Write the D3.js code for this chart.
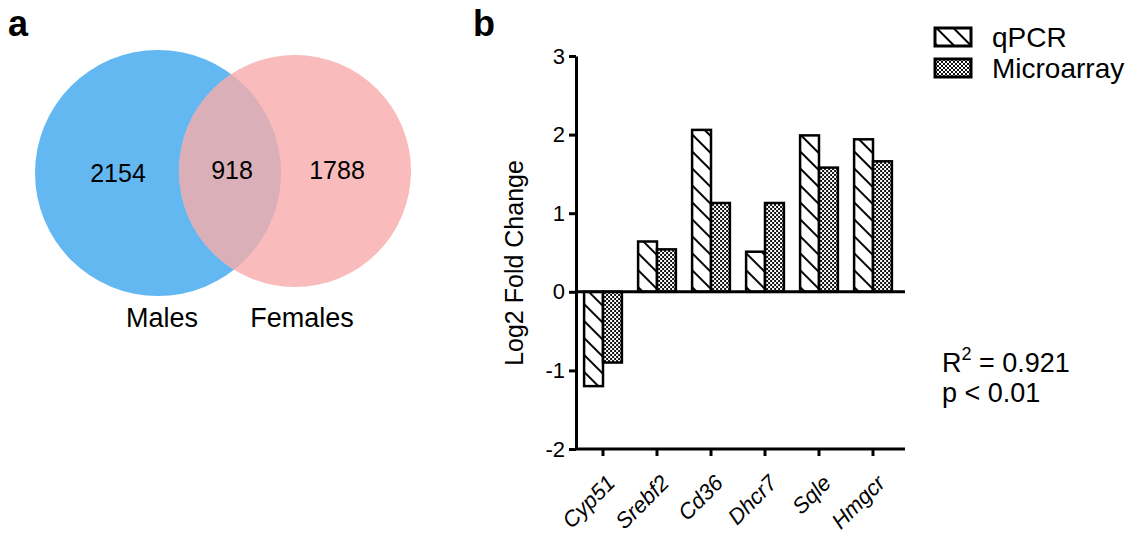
<!DOCTYPE html>
<html>
<head>
<meta charset="utf-8">
<script src="https://cdn.jsdelivr.net/npm/d3@7"></script>
<style>
  body { margin: 0; background: #fff; }
  svg { font-family: "Liberation Sans", Arial, sans-serif; }
</style>
</head>
<body>
<svg id="fig" width="1130" height="533"></svg>
<script>
// Venn counts
const vennSets = ["Males", "Females"];
const vennCounts = [2154, 918, 1788]; // males only, shared, females only

// Bar chart data
const genes = ["Cyp51", "Srebf2", "Cd36", "Dhcr7", "Sqle", "Hmgcr"];
const methods = ["qPCR", "Microarray"];
const qpcr = [-1.20, 0.64, 2.06, 0.51, 1.99, 1.94];
const microarray = [-0.90, 0.54, 1.13, 1.13, 1.58, 1.66];
const yTicks = [-2, -1, 0, 1, 2, 3];
const stats = ["R", " = 0.921", "p < 0.01"];

const svg = d3.select("#fig");

// patterns for the bars
const defs = svg.append("defs");
const hatch = defs.append("pattern")
  .attr("id", "hatch")
  .attr("patternUnits", "userSpaceOnUse")
  .attr("width", 12).attr("height", 12)
  .attr("patternTransform", "rotate(-45)");
hatch.append("rect").attr("width", 12).attr("height", 12).attr("fill", "#fff");
hatch.append("line")
  .attr("x1", 0).attr("y1", 0).attr("x2", 0).attr("y2", 12)
  .attr("stroke", "#000").attr("stroke-width", 4);

const checker = defs.append("pattern")
  .attr("id", "checker")
  .attr("patternUnits", "userSpaceOnUse")
  .attr("width", 4).attr("height", 4);
checker.append("rect").attr("width", 4).attr("height", 4).attr("fill", "#fff");
checker.append("rect").attr("width", 2).attr("height", 2).attr("fill", "#111");
checker.append("rect").attr("x", 2).attr("y", 2).attr("width", 2).attr("height", 2).attr("fill", "#111");

const fills = { qPCR: "url(#hatch)", Microarray: "url(#checker)" };

// ---------- panel a : Venn ----------
svg.append("text").attr("x", 8).attr("y", 36)
  .attr("font-size", 36).attr("font-weight", "bold").text("a");

const circles = [
  { cx: 158, cy: 173, r: 123, color: "#64b8f1" },
  { cx: 295, cy: 171, r: 116, color: "#f9bbbb" }
];

const venn = svg.append("g");
venn.selectAll("circle")
  .data(circles)
  .join("circle")
  .attr("cx", d => d.cx).attr("cy", d => d.cy).attr("r", d => d.r)
  .attr("fill", d => d.color);

// overlap region
defs.append("clipPath").attr("id", "clipMale")
  .append("circle")
  .attr("cx", circles[0].cx).attr("cy", circles[0].cy).attr("r", circles[0].r);
venn.append("circle")
  .attr("cx", circles[1].cx).attr("cy", circles[1].cy).attr("r", circles[1].r)
  .attr("clip-path", "url(#clipMale)")
  .attr("fill", "#dbafb8");

const countX = [118, 232, 337];
venn.selectAll("text.count")
  .data(vennCounts)
  .join("text")
  .attr("class", "count")
  .attr("x", (d, i) => countX[i])
  .attr("y", (d, i) => i === 0 ? 182 : 179)
  .attr("text-anchor", "middle")
  .attr("font-size", 25)
  .text(d => d);

venn.selectAll("text.setname")
  .data(vennSets)
  .join("text")
  .attr("class", "setname")
  .attr("x", (d, i) => i === 0 ? 162 : 302)
  .attr("y", 327)
  .attr("text-anchor", "middle")
  .attr("font-size", 27)
  .text(d => d);

// ---------- panel b : bars ----------
svg.append("text").attr("x", 473).attr("y", 36)
  .attr("font-size", 36).attr("font-weight", "bold").text("b");

const x = d3.scaleBand().domain(genes).range([576, 900])
  .paddingInner(0.3).paddingOuter(0.15);
const xSub = d3.scaleBand().domain(methods).range([0, x.bandwidth()]);
const y = d3.scaleLinear().domain([-2, 3]).range([449, 56]);

const rows = genes.map((g, i) => ({ gene: g, values: [
  { method: "qPCR", value: qpcr[i] },
  { method: "Microarray", value: microarray[i] }
]}));

svg.append("g")
  .selectAll("g")
  .data(rows)
  .join("g")
  .attr("transform", d => `translate(${x(d.gene)},0)`)
  .selectAll("rect")
  .data(d => d.values)
  .join("rect")
  .attr("x", d => xSub(d.method))
  .attr("width", xSub.bandwidth())
  .attr("y", d => y(Math.max(0, d.value)))
  .attr("height", d => Math.abs(y(d.value) - y(0)))
  .attr("fill", d => fills[d.method])
  .attr("stroke", "#000")
  .attr("stroke-width", 2.5);

// zero line
svg.append("line")
  .attr("x1", 576).attr("x2", 905)
  .attr("y1", y(0)).attr("y2", y(0))
  .attr("stroke", "#000").attr("stroke-width", 3);

// y axis
const yAxis = svg.append("g")
  .attr("transform", "translate(576,0)")
  .call(d3.axisLeft(y).tickValues(yTicks).tickSize(7).tickPadding(4).tickSizeOuter(0)
    .tickFormat(d => String(d)));
yAxis.selectAll("path, line").attr("stroke", "#000").attr("stroke-width", 3);
yAxis.selectAll("text").attr("font-size", 22).attr("font-family", "Liberation Sans, Arial, sans-serif").attr("fill", "#000");

// x axis at the bottom
const xAxis = svg.append("g")
  .attr("transform", `translate(0,${y(-2)})`)
  .call(d3.axisBottom(x).tickSize(7).tickSizeOuter(0));
xAxis.select(".domain").attr("d", `M576,0H905`);
xAxis.selectAll("path, line").attr("stroke", "#000").attr("stroke-width", 3);
xAxis.selectAll("text")
  .attr("font-size", 22)
  .attr("font-style", "italic")
  .attr("font-family", "Liberation Sans, Arial, sans-serif")
  .attr("fill", "#000")
  .attr("text-anchor", "end")
  .attr("dy", "0.35em")
  .attr("transform", "translate(8,30) rotate(-45)")
  .attr("y", 0);

// y axis title
svg.append("text")
  .attr("transform", "translate(523,263) rotate(-90)")
  .attr("text-anchor", "middle")
  .attr("font-size", 25)
  .text("Log2 Fold Change");

// legend
const legend = svg.append("g")
  .selectAll("g")
  .data(methods)
  .join("g")
  .attr("transform", (d, i) => `translate(935,${28 + i * 31})`);
legend.append("rect")
  .attr("width", 36).attr("height", 18)
  .attr("fill", d => fills[d])
  .attr("stroke", "#000").attr("stroke-width", 3);
legend.append("text")
  .attr("x", 57).attr("y", 19)
  .attr("font-size", 28)
  .text(d => d);

// statistics
const st = svg.append("text").attr("x", 942).attr("y", 372).attr("font-size", 27);
st.append("tspan").text(stats[0]);
st.append("tspan").attr("font-size", 18).attr("dy", -12).text("2");
st.append("tspan").attr("dy", 12).text(stats[1]);
svg.append("text").attr("x", 942).attr("y", 402).attr("font-size", 27).text(stats[2]);
</script>
</body>
</html>
